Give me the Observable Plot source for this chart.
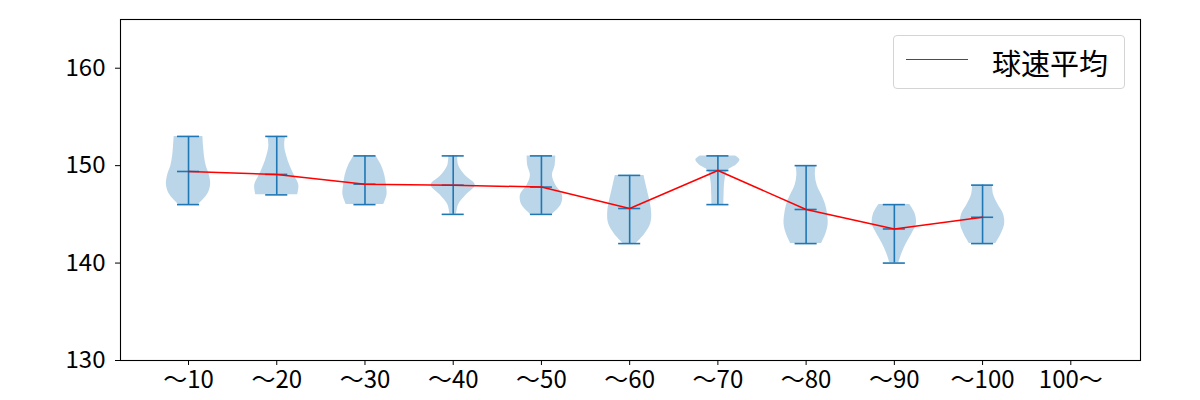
<!DOCTYPE html>
<html><head><meta charset="utf-8">
<script src="https://cdn.jsdelivr.net/npm/d3@7"></script>
<script src="https://cdn.jsdelivr.net/npm/@observablehq/plot@0.6"></script>
<style>
body{margin:0;background:#fff;font-family:"Noto Sans CJK JP","Noto Sans",sans-serif}
#wrap{position:relative;width:1200px;height:400px}
#legend{position:absolute;left:893px;top:35px;width:230px;height:52px;border:1px solid #d4d4d4;border-radius:4px;background:rgba(255,255,255,0.8)}
#legend .ln{position:absolute;left:12px;top:23px;width:62px;height:0;border-top:1.5px solid red}
#legend .tx{position:absolute;left:98px;top:0;line-height:52px;font-size:29px;color:#000;font-family:"Noto Sans CJK JP",sans-serif}
</style></head><body>
<div id="wrap"><div id="legend"><div class="ln"></div><span class="tx">球速平均</span></div></div>
<script>
const labels = ["～10","～20","～30","～40","～50","～60","～70","～80","～90","～100","100～"];
const means = [149.4,149.1,148.1,148.0,147.8,145.6,149.5,145.5,143.5,144.7];
const mins = [146,147,146,145,145,142,146,142,140,142];
const maxs = [153,153,151,151,151,149,151,150,146,148];
// density outline: [value, relative half-width]
const profiles = [
  [[153,0.65],[152,0.68],[151,0.72],[150,0.8],[149,0.95],[148,1.0],[147,0.85],[146,0.45]],
  [[153,0.4],[152,0.36],[151,0.45],[150,0.6],[149,0.8],[148,1.0],[147,0.95]],
  [[151,0.5],[150,0.75],[149,0.9],[148,0.97],[147,1.0],[146,0.85]],
  [[151,0.2],[150,0.25],[149,0.55],[148,1.0],[147,0.6],[146,0.25],[145,0.15]],
  [[151,0.65],[150,0.62],[149,0.5],[148,0.65],[147,0.95],[146,0.9],[145,0.5]],
  [[149,0.65],[148,0.75],[147,0.85],[146,0.95],[145,1.0],[144,0.95],[143,0.7],[142,0.3]],
  [[151,0.8],[150.6,1.0],[150.1,0.85],[149.5,0.45],[148.5,0.32],[147,0.28],[146,0.27]],
  [[150,0.45],[149,0.42],[148,0.5],[147,0.7],[146,0.88],[145,0.97],[144,1.0],[143,0.9],[142,0.7]],
  [[146,0.7],[145,0.95],[144,1.0],[143,0.8],[142,0.55],[141,0.35],[140,0.2]],
  [[148,0.45],[147,0.5],[146,0.7],[145,0.95],[144,1.0],[143,0.85],[142,0.6]]
];

const stats = means.map((m,i)=>({pos:i+1, mean:m, min:mins[i], max:maxs[i]}));
const violinRows = profiles.flatMap((p,i)=>p.map(([v,w])=>({cat:i, y:v, x1:i+1-0.25*w, x2:i+1+0.25*w})));
const caps = stats.flatMap(d=>[d.min,d.max,d.mean].map(v=>({pos:d.pos, y:v})));
const C0 = "#1f77b4";

const chart = Plot.plot({
  width:1200, height:400,
  marginLeft:120, marginRight:60, marginTop:19, marginBottom:40,
  style:{fontFamily:'"Noto Sans CJK JP", sans-serif', fontSize:"24px", color:"#000", background:"transparent"},
  x:{type:"linear", domain:[0.229,11.79]},
  y:{domain:[130,165]},
  marks:[
    Plot.areaX(violinRows,{y:"y", x1:"x1", x2:"x2", z:"cat", fill:C0, fillOpacity:0.3, curve:"catmull-rom"}),
    Plot.ruleX(stats,{x:"pos", y1:"min", y2:"max", stroke:C0, strokeWidth:1.6}),
    Plot.ruleY(caps,{y:"y", x1:d=>d.pos-0.125, x2:d=>d.pos+0.125, stroke:C0, strokeWidth:1.6}),
    Plot.line(stats,{x:"pos", y:"mean", stroke:"red", strokeWidth:1.5}),
    Plot.axisX({ticks:d3.range(1,12), tickFormat:i=>labels[i-1], tickSize:5, tickPadding:5, label:null, fontSize:24}),
    Plot.axisY({ticks:[130,140,150,160], tickSize:5, tickPadding:10, label:null, fontSize:24}),
    Plot.frame({stroke:"#000", strokeWidth:1.1})
  ]
});
document.getElementById("wrap").prepend(chart);
chart.style.position="absolute"; chart.style.left="0"; chart.style.top="0";
document.getElementById("legend").style.zIndex="2";
</script></body></html>
